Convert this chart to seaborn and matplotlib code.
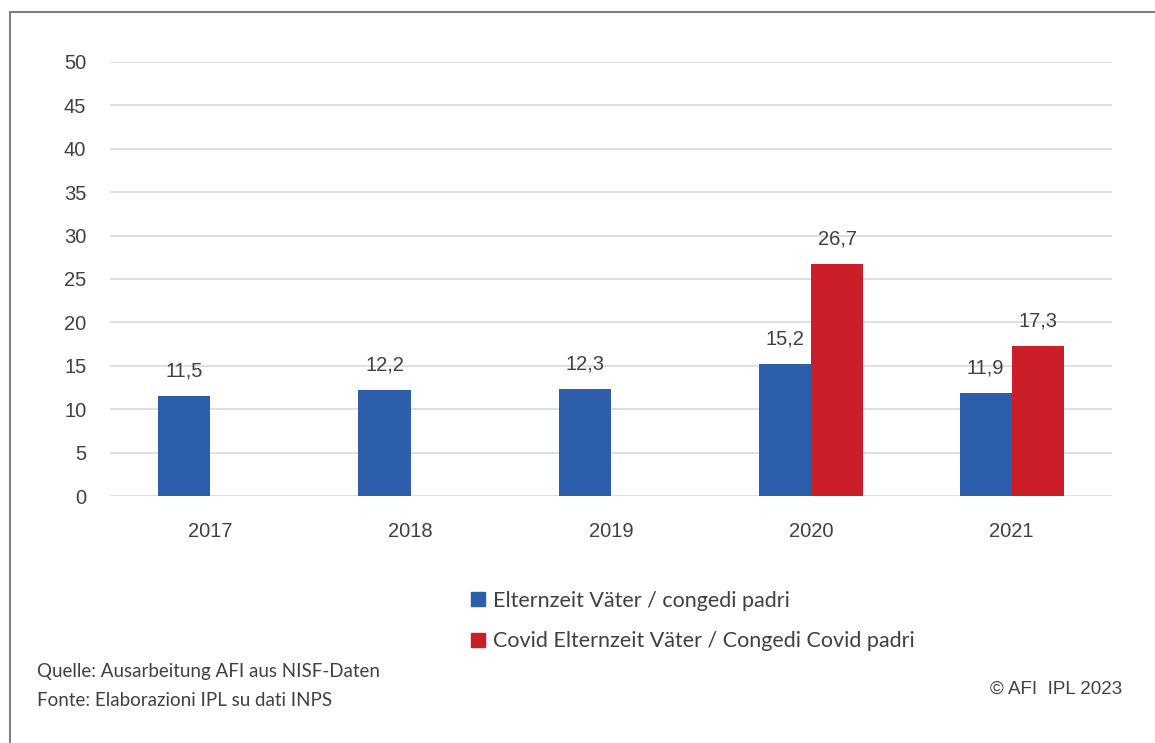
import matplotlib
matplotlib.use("Agg")
import matplotlib.pyplot as plt
from matplotlib.lines import Line2D
import pandas as pd
import seaborn as sns

# data
years = ["2017", "2018", "2019", "2020", "2021"]
elternzeit = [11.5, 12.2, 12.3, 15.2, 11.9]
covid = [None, None, None, 26.7, 17.3]
series_names = ["Elternzeit Väter / congedi padri",
                "Covid Elternzeit Väter / Congedi Covid padri"]
colors = ["#2C5EAB", "#CC1E28"]

df = pd.DataFrame({
    "year": years * 2,
    "value": elternzeit + covid,
    "series": [series_names[0]] * 5 + [series_names[1]] * 5,
})

sns.set_theme(style="white")
plt.rcParams["font.family"] = ["Liberation Sans", "DejaVu Sans"]

fig = plt.figure(figsize=(11.55, 7.43), dpi=100)
ax = fig.add_axes([0.0952, 0.3324, 0.8675, 0.5842])

sns.barplot(data=df, x="year", y="value", hue="series", order=years,
            hue_order=series_names, palette=colors, width=0.52,
            saturation=1, linewidth=0, legend=False, ax=ax)

ax.set_ylim(0, 50)
ax.set_xlim(-0.5, 4.5)
ax.set_yticks(range(0, 51, 5))
ax.yaxis.grid(True, color="#d9d9d9", linewidth=1.2)
ax.set_axisbelow(True)
for s in ax.spines.values():
    s.set_visible(False)
ax.set_xlabel("")
ax.set_ylabel("")
ax.tick_params(axis="y", labelsize=14.5, colors="#404040", pad=17, length=0)
ax.tick_params(axis="x", labelsize=14.5, colors="#404040", pad=19, length=0)

for cont in ax.containers:
    ax.bar_label(cont, fmt=lambda v: f"{v:.1f}".replace(".", ","),
                 padding=11, fontsize=14.5, color="#404040")

handles = [Line2D([], [], marker="s", linestyle="", markersize=10,
                  markerfacecolor=c, markeredgecolor=c) for c in colors]
fig.legend(handles, series_names, loc="upper left",
           bbox_to_anchor=(462 / 1155, 1 - 582 / 743), frameon=False,
           prop={"family": "Lato", "size": 15.5}, labelcolor="#404040",
           handlelength=0.7, handletextpad=0.35, labelspacing=0.95,
           borderaxespad=0)

fig.text(37 / 1155, 1 - 672 / 743, "Quelle: Ausarbeitung AFI aus NISF-Daten",
         family="Lato", fontsize=13.5, color="#404040", va="center")
fig.text(37 / 1155, 1 - 700 / 743, "Fonte: Elaborazioni IPL su dati INPS",
         family="Lato", fontsize=13.5, color="#404040", va="center")
fig.text(1122 / 1155, 1 - 689 / 743, "© AFI  IPL 2023",
         fontsize=13.5, color="#404040", va="center", ha="right")

# frame lines of the original picture
fig.add_artist(Line2D([9.5 / 1155, 9.5 / 1155], [0, 1 - 11.5 / 743],
                      color="#7f7f7f", linewidth=1.5))
fig.add_artist(Line2D([9.5 / 1155, 1], [1 - 11.5 / 743, 1 - 11.5 / 743],
                      color="#7f7f7f", linewidth=1.5))

fig.savefig("out.png", dpi=100)
